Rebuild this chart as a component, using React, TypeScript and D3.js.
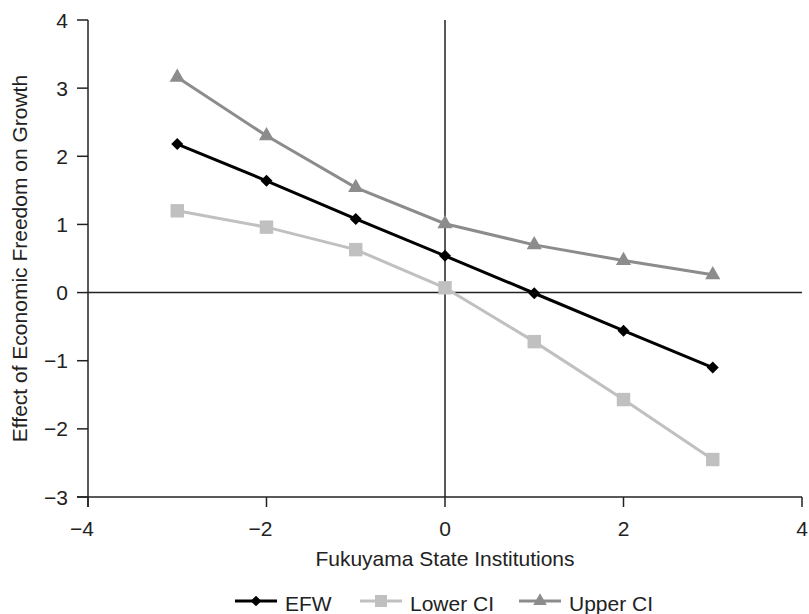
import React from "react";
import * as d3 from "d3";

const WIDTH = 809;
const HEIGHT = 614;

const xValues = [-3, -2, -1, 0, 1, 2, 3];
const efw = [2.18, 1.64, 1.08, 0.54, -0.01, -0.56, -1.1];
const lowerCI = [1.2, 0.96, 0.63, 0.07, -0.72, -1.57, -2.45];
const upperCI = [3.16, 2.3, 1.54, 1.01, 0.7, 0.47, 0.26];

const xTicks = [-4, -2, 0, 2, 4];
const yTicks = [-3, -2, -1, 0, 1, 2, 3, 4];

const series = [
  { name: "EFW", values: efw, color: "#000000", symbol: d3.symbolSquare, size: 72, rotate: 45, legendX: 235 },
  { name: "Lower CI", values: lowerCI, color: "#c0c0c0", symbol: d3.symbolSquare, size: 180, rotate: 0, legendX: 360 },
  { name: "Upper CI", values: upperCI, color: "#8c8c8c", symbol: d3.symbolTriangle, size: 100, rotate: 0, legendX: 519 },
];

const font = "Liberation Sans, Arial, Helvetica, sans-serif";
const axisColor = "#222";

const fmt = (t: number) => (t < 0 ? "\u2212" + Math.abs(t) : String(t));

export default function App() {
  const margin = { top: 20, right: 7, bottom: 117, left: 88 };
  const x = d3.scaleLinear().domain([-4, 4]).range([margin.left, WIDTH - margin.right]);
  const y = d3.scaleLinear().domain([-3, 4]).range([HEIGHT - margin.bottom, margin.top]);

  const line = d3
    .line<number>()
    .x((_, i) => x(xValues[i]))
    .y((d) => y(d));

  const x0 = x(-4);
  const y0 = y(-3);

  return (
    <svg width={WIDTH} height={HEIGHT} style={{ position: "absolute", left: 0, top: 0 }}>
      <rect width={WIDTH} height={HEIGHT} fill="#fff" />
      {/* y axis */}
      <line x1={x0} x2={x0} y1={y(4)} y2={y0 + 10} stroke={axisColor} strokeWidth={1.5} />
      {yTicks.map((t) => (
        <g key={"y" + t}>
          <line x1={x0 - 11} x2={x0} y1={y(t)} y2={y(t)} stroke={axisColor} strokeWidth={1.5} />
          <text
            x={x0 - 20}
            y={y(t)}
            dy="0.36em"
            textAnchor="end"
            fontFamily={font}
            fontSize={21}
            fill={axisColor}
          >
            {fmt(t)}
          </text>
        </g>
      ))}
      {/* x axis */}
      <line x1={x0 - 11} x2={x(4)} y1={y0} y2={y0} stroke={axisColor} strokeWidth={1.5} />
      {xTicks.map((t) => (
        <g key={"x" + t}>
          <line x1={x(t)} x2={x(t)} y1={y0} y2={y0 + 10} stroke={axisColor} strokeWidth={1.5} />
          <text
            x={x(t) - (t < 0 ? 6 : 0)}
            y={y0 + 39}
            textAnchor="middle"
            fontFamily={font}
            fontSize={21}
            fill={axisColor}
          >
            {fmt(t)}
          </text>
        </g>
      ))}
      {/* zero lines */}
      <line x1={x0} x2={x(4)} y1={y(0)} y2={y(0)} stroke={axisColor} strokeWidth={1.5} />
      <line x1={x(0)} x2={x(0)} y1={y(4)} y2={y0} stroke={axisColor} strokeWidth={1.5} />

      {/* series */}
      {series.map((s) => (
        <g key={s.name}>
          <path d={line(s.values) || ""} fill="none" stroke={s.color} strokeWidth={3} />
          {s.values.map((v, i) => (
            <path
              key={i}
              d={d3.symbol().type(s.symbol).size(s.size)() || ""}
              transform={`translate(${x(xValues[i])},${y(v)}) rotate(${s.rotate})`}
              fill={s.color}
            />
          ))}
        </g>
      ))}

      {/* axis titles */}
      <text
        x={x(0)}
        y={566}
        textAnchor="middle"
        fontFamily={font}
        fontSize={21}
        fill={axisColor}
      >
        Fukuyama State Institutions
      </text>
      <text
        transform={`translate(27,${(y(4) + y0) / 2}) rotate(-90)`}
        textAnchor="middle"
        fontFamily={font}
        fontSize={21}
        fill={axisColor}
      >
        Effect of Economic Freedom on Growth
      </text>

      {/* legend */}
      {series.map((s) => (
        <g key={"lg" + s.name} transform={`translate(${s.legendX},601)`}>
          <line x1={0} x2={42} y1={0} y2={0} stroke={s.color} strokeWidth={3} />
          <path
            d={d3.symbol().type(s.symbol).size(s.size * 0.8)() || ""}
            transform={`translate(21,0) rotate(${s.rotate})`}
            fill={s.color}
          />
          <text x={50} y={2} dy="0.36em" fontFamily={font} fontSize={21} fill={axisColor}>
            {s.name}
          </text>
        </g>
      ))}
    </svg>
  );
}
